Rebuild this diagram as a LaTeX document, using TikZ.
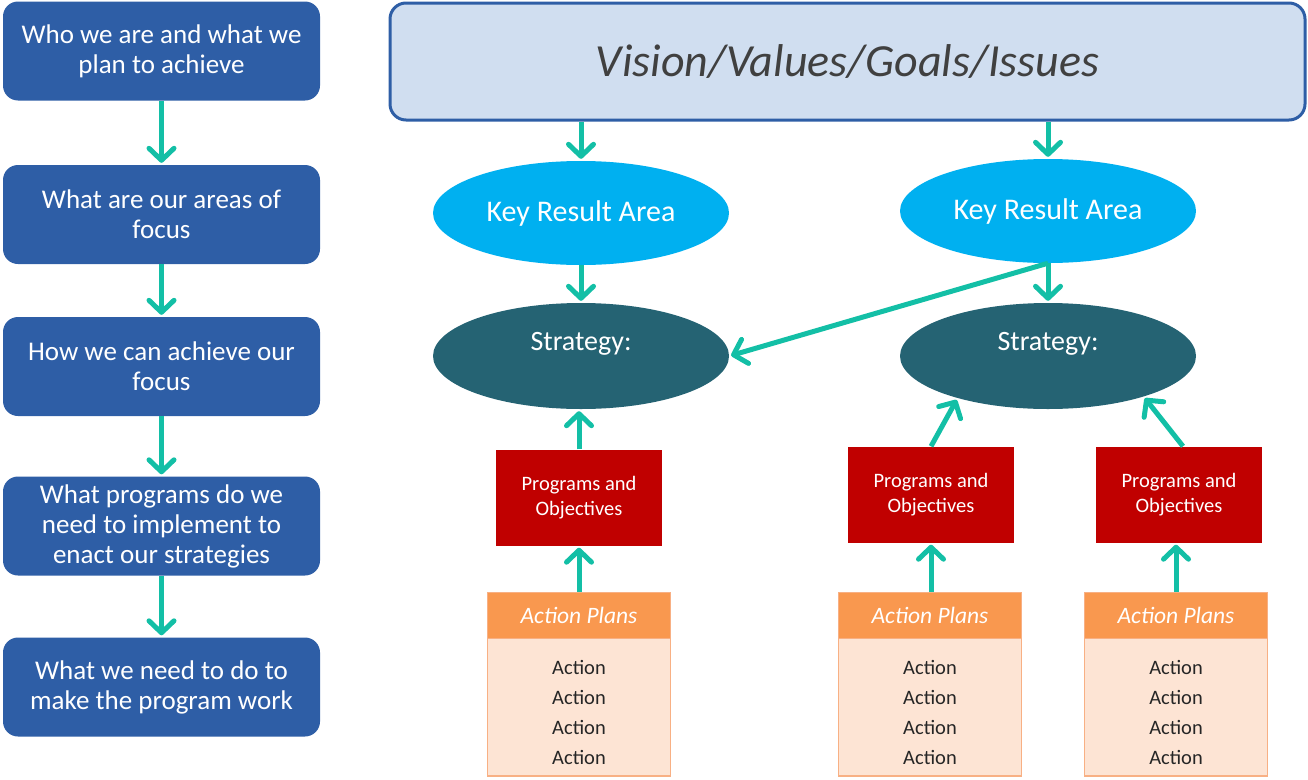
\documentclass[tikz,border=0pt]{standalone}
\usepackage{fontspec}
\setmainfont{Carlito}
\usetikzlibrary{arrows.meta,shapes.geometric}
\definecolor{leftblue}{HTML}{2E5EA6}
\definecolor{arrteal}{HTML}{13BFA6}
\definecolor{visfill}{HTML}{D0DEF0}
\definecolor{visline}{HTML}{2E5EA6}
\definecolor{vistext}{HTML}{404040}
\definecolor{kracol}{HTML}{00B0F0}
\definecolor{stratcol}{HTML}{256373}
\definecolor{progcol}{HTML}{C00000}
\definecolor{aphead}{HTML}{F9984F}
\definecolor{apbody}{HTML}{FDE4D4}
\definecolor{apborder}{HTML}{F8B084}
\definecolor{actext}{HTML}{262626}
\newcommand{\actlines}{\rule{0pt}{25pt}Action\\Action\\Action\\Action}
\begin{document}
\begin{tikzpicture}[x=1pt,y=-1pt,
  leftbox/.style={rectangle,rounded corners=15pt,fill=leftblue,text=white,
    minimum width=317pt,minimum height=99pt,inner sep=0pt,align=center,
    font=\fontsize{27}{30}\selectfont},
  visbox/.style={rectangle,rounded corners=16pt,fill=visfill,draw=visline,line width=3pt,
    minimum width=915pt,minimum height=117pt,inner sep=0pt,text=vistext,
    font=\fontsize{46}{50}\selectfont\itshape},
  kra/.style={ellipse,fill=kracol,text=white,minimum width=296pt,minimum height=104pt,
    inner sep=0pt,font=\fontsize{30}{32}\selectfont},
  strat/.style={ellipse,fill=stratcol,text=white,minimum width=296pt,minimum height=106pt,
    inner sep=0pt,align=center,font=\fontsize{28}{30}\selectfont},
  progbox/.style={rectangle,fill=progcol,text=white,minimum width=166pt,minimum height=96pt,
    inner sep=0pt,align=center,font=\fontsize{20.5}{25}\selectfont},
  aphdr/.style={rectangle,fill=aphead,draw=apborder,line width=1pt,text=white,
    minimum width=183pt,minimum height=46pt,inner sep=0pt,
    font=\fontsize{23.5}{25}\selectfont\itshape},
  apbdy/.style={rectangle,fill=apbody,draw=apborder,line width=1.5pt,text=actext,
    minimum width=183pt,minimum height=138pt,inner sep=0pt,align=center,
    font=\fontsize{20.5}{30}\selectfont},
  arr/.style={draw=arrteal,line width=5pt,shorten >=2pt,
    -{Straight Barb[length=12pt,width=25pt,round]}}
]
\useasboundingbox (0,0) rectangle (1308,779);

% left column
\node[leftbox] (l1) at (161.5,51) {Who we are and what we\\plan to achieve};
\node[leftbox] (l2) at (161.5,214.5) {What are our areas of\\focus};
\node[leftbox] (l3) at (161.5,366.5) {How we can achieve our\\focus};
\node[leftbox] (l4) at (161.5,526) {What programs do we\\need to implement to\\enact our strategies};
\node[leftbox] (l5) at (161.5,687) {What we need to do to\\make the program work};
\draw[arr] (l1) -- (l2);
\draw[arr] (l2) -- (l3);
\draw[arr] (l3) -- (l4);
\draw[arr] (l4) -- (l5);

% vision
\node[visbox] (vis) at (847.5,61.5) {Vision/Values/Goals/Issues};

% key result areas
\node[kra] (k1) at (581,213) {Key Result Area};
\node[kra] (k2) at (1048,211) {Key Result Area};
\draw[arr] (vis.south -| k1) -- (k1.north);
\draw[arr] (vis.south -| k2) -- (k2.north);

% strategies
\node[strat] (s1) at (581,356) {Strategy:\\\mbox{}};
\node[strat] (s2) at (1048,356) {Strategy:\\\mbox{}};
\draw[arr] (k1) -- (s1);
\draw[arr] (k2) -- (s2);
\draw[arr] (k2.south) -- (s1.east);

% programs
\node[progbox] (p1) at (579,497.5) {Programs and\\Objectives};
\node[progbox] (p2) at (931,494.5) {Programs and\\Objectives};
\node[progbox] (p3) at (1179,494.5) {Programs and\\Objectives};
\draw[arr] (p1.north) -- (p1.north |- s1.south);
\draw[arr] (p2.north) -- (s2.205);
\draw[arr] ([xshift=4pt]p3.north) -- (s2.337);

% action plans
\node[apbdy] (a1b) at (579,707) {\actlines};
\node[aphdr] (a1h) at (579,615) {Action Plans};
\node[apbdy] (a2b) at (930,707) {\actlines};
\node[aphdr] (a2h) at (930,615) {Action Plans};
\node[apbdy] (a3b) at (1176,707) {\actlines};
\node[aphdr] (a3h) at (1176,615) {Action Plans};
\draw[arr] (a1h.north) -- (p1.south);
\draw[arr] (a2h.north -| p2) -- (p2.south);
\draw[arr] (a3h.north -| a3h) -- (a3h.north |- p3.south);
\end{tikzpicture}
\end{document}
